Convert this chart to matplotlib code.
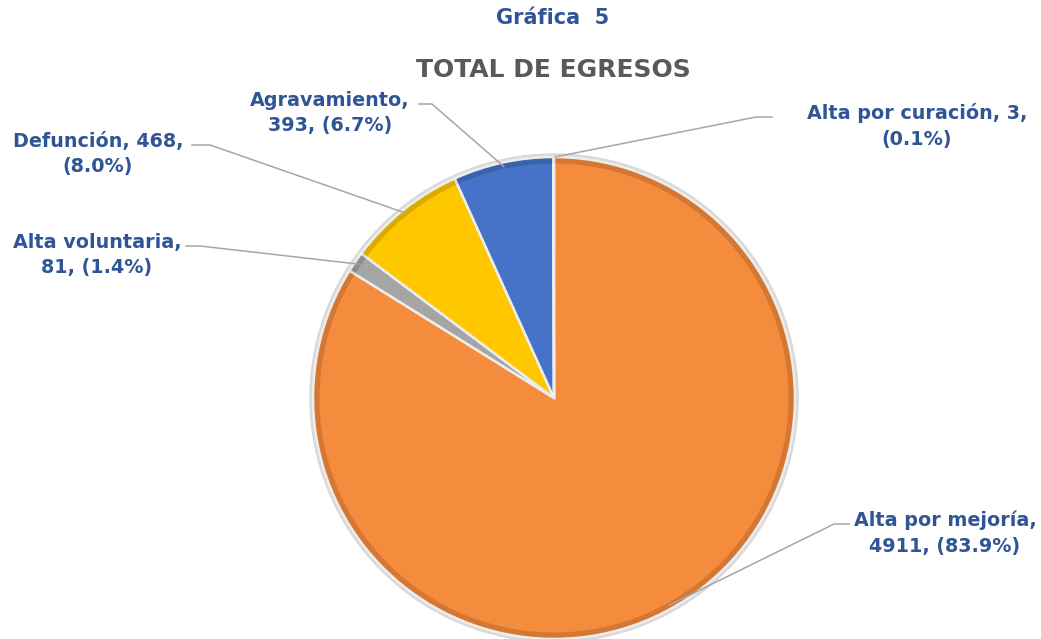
import matplotlib.pyplot as plt
from matplotlib.patches import Wedge, Circle
import numpy as np

# datos de la gráfica
categorias = ['Alta por mejoría', 'Alta voluntaria', 'Defunción', 'Agravamiento', 'Alta por curación']
egresos = [4911, 81, 468, 393, 3]
porcentajes = ['83.9%', '1.4%', '8.0%', '6.7%', '0.1%']
colores = ['#F58B3D', '#A5A5A5', '#FFC700', '#4673C8', '#2B4E8C']

AZUL = '#2F5597'
W, H = 1041, 639

fig = plt.figure(figsize=(W / 100, H / 100), dpi=100)
ax = fig.add_axes([0, 0, 1, 1])

cx, cy, r = 554, H - 398, 241

# sombra / borde exterior
ax.add_patch(Circle((cx, cy), r + 3, color='#D9D9D9', zorder=0))
wedges, _ = ax.pie(egresos, colors=colores, startangle=90, counterclock=False,
                   center=(cx, cy), radius=r, frame=True,
                   wedgeprops=dict(edgecolor='#EDEDED', linewidth=1.8))
ax.set_xlim(0, W)
ax.set_ylim(0, H)
ax.set_aspect('equal')
ax.axis('off')

# efecto de bisel simple: anillo exterior algo más oscuro
for w in wedges:
    ax.add_patch(Wedge((cx, cy), r - 1.5, w.theta1 + 0.3, w.theta2 - 0.3, width=5,
                       facecolor='black', alpha=0.07, edgecolor='none'))

# títulos
fig.text(553 / W, 1 - 18 / H, 'Gráfica  5', ha='center', va='center',
         fontsize=15, fontweight='bold', color=AZUL)
fig.text(553 / W, 1 - 70 / H, 'TOTAL DE EGRESOS', ha='center', va='center',
         fontsize=18, fontweight='bold', color='#595959')

# posición de etiquetas: (x centro, y primera línea, x inicio guía, x codo)
layout = {
    'Alta por mejoría': (945, 520, 849, 834),
    'Alta voluntaria': (97, 242, 186, 200),
    'Defunción': (98, 141, 192, 210),
    'Agravamiento': (330, 100, 419, 432),
    'Alta por curación': (917, 113, 772, 756),
}
lineas = {
    'Alta por mejoría': ('Alta por mejoría,', '{v}, ({p})'),
    'Alta voluntaria': ('Alta voluntaria,', '{v}, ({p})'),
    'Defunción': ('Defunción, {v},', '({p})'),
    'Agravamiento': ('Agravamiento,', '{v}, ({p})'),
    'Alta por curación': ('Alta por curación, {v},', '({p})'),
}

for w, cat, v, p in zip(wedges, categorias, egresos, porcentajes):
    tx, ty, gx, ex = layout[cat]
    l1, l2 = lineas[cat]
    texto = l1.format(v=v) + '\n' + l2.format(v=v, p=p)
    ax.text(tx, H - ty - 13, texto, ha='center', va='center', fontsize=13.8,
            fontweight='bold', color=AZUL, linespacing=1.45)
    ang = np.deg2rad((w.theta1 + w.theta2) / 2)
    px = cx + (r - 4) * np.cos(ang)
    py = cy + (r - 4) * np.sin(ang)
    if cat == 'Alta por curación':
        px, py = cx + 1, cy + r
    gy = H - ty - 4
    ax.plot([gx, ex, px], [gy, gy, py], color='#A6A6A6', lw=1.1, zorder=5)

fig.savefig('out.png', dpi=100)
